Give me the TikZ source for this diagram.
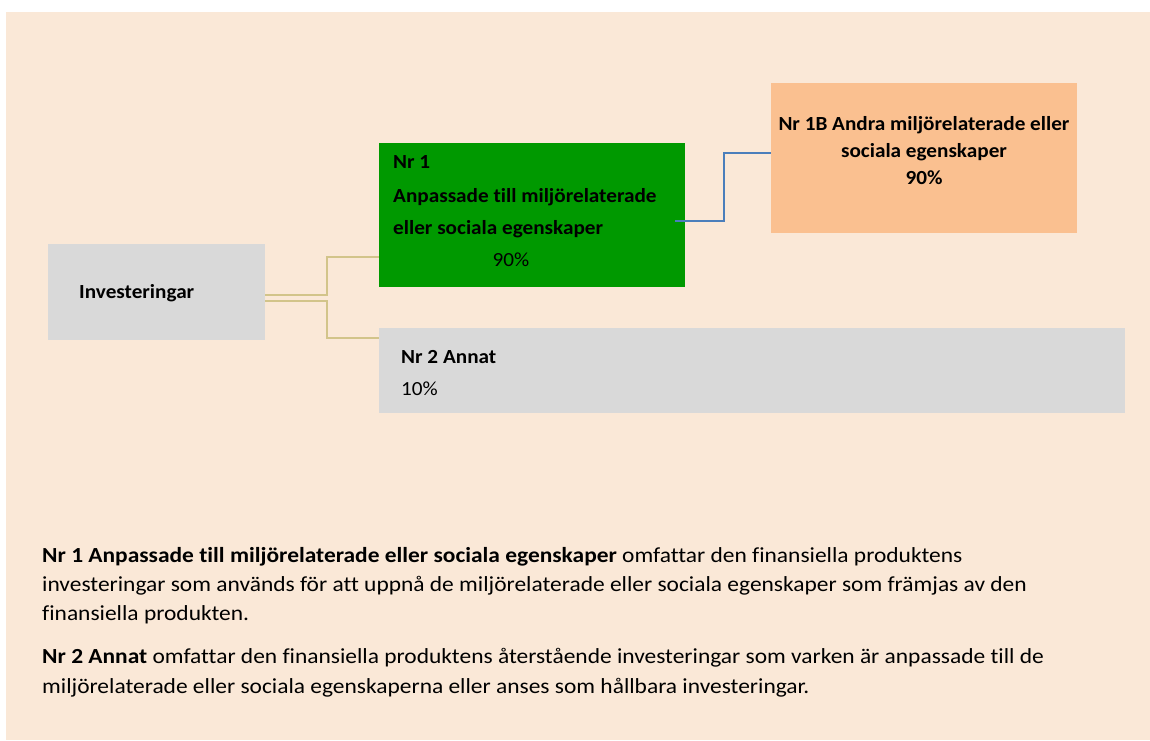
\documentclass[tikz,border=0pt]{standalone}
\usepackage{fontspec}
\setmainfont{Carlito}[Ligatures=NoCommon]
\newfontfamily\descfont{Carlito}[FakeStretch=1.09, Ligatures=NoCommon]
\newfontfamily\boxfont{Carlito}[FakeStretch=1.06, Ligatures=NoCommon]
\definecolor{bgpeach}{HTML}{FAE8D7}
\definecolor{boxgray}{HTML}{D9D9D9}
\definecolor{boxgreen}{HTML}{009900}
\definecolor{boxorange}{HTML}{FAC090}
\definecolor{linegold}{HTML}{D2C48A}
\definecolor{lineblue}{HTML}{4A7EBB}
\tikzset{
  panel/.style={fill=#1, draw=none, inner sep=0pt, outer sep=0pt, anchor=north west},
  boxtext/.style={font=\boxfont\fontsize{20}{24}\selectfont\bfseries, inner sep=0pt, anchor=base west},
  plaintext/.style={font=\boxfont\fontsize{20}{24}\selectfont, inner sep=0pt, anchor=base west},
  desc/.style={font=\descfont\fontsize{21.5}{26}\selectfont, inner sep=0pt, anchor=base west},
  goldline/.style={draw=linegold, line width=1.5pt},
  blueline/.style={draw=lineblue, line width=1.5pt},
}
\begin{document}
\begin{tikzpicture}[x=1pt,y=-1pt]
\useasboundingbox (0,0) rectangle (1150,740);
\fill[white] (0,0) rectangle (1150,740);
\fill[bgpeach] (6,12) rectangle (1150,740);

% boxes
\node[panel=boxgray, minimum width=217pt, minimum height=96pt] (inv) at (48,244) {};
\node[panel=boxgreen, minimum width=306pt, minimum height=144pt] (nr1) at (379,143) {};
\node[panel=boxorange, minimum width=306pt, minimum height=150pt] (nr1b) at (771,83) {};
\node[panel=boxgray, minimum width=746pt, minimum height=85pt] (nr2) at (379,328) {};

% connector points
\coordinate (ga) at (265,295);
\coordinate (gb) at (265,301);
\coordinate (bl) at (675,221);

% connectors
\draw[goldline] (ga) -- (327,295) -- (327,257) -- (nr1.west |- 0,257);
\draw[goldline] (gb) -- (327,301) -- (327,338) -- (nr2.west |- 0,338);
\draw[blueline] (bl) -- (724,221) -- (724,153) -- (nr1b.west |- 0,153);

% box texts
\node[boxtext] (invt) at (79,298) {Investeringar};
\node[boxtext] (nr1a) at (393,168) {Nr 1};
\node[boxtext] (nr1b1) at (393,202) {Anpassade till miljörelaterade};
\node[boxtext] (nr1b2) at (393,234) {eller sociala egenskaper};
\node[plaintext, anchor=base] (nr1c) at (511,266) {90\%};
\node[boxtext, anchor=base] (or1) at (924,130) {Nr 1B Andra miljörelaterade eller};
\node[boxtext, anchor=base] (or2) at (924,157) {sociala egenskaper};
\node[boxtext, anchor=base] (or3) at (924,184) {90\%};
\node[boxtext] (nr2a) at (401,363) {Nr 2 Annat};
\node[plaintext] (nr2b) at (401,395) {10\%};

% description
\node[desc] (d1) at (42,562) {\textbf{Nr 1 Anpassade till miljörelaterade eller sociala egenskaper} omfattar den finansiella produktens};
\node[desc] (d2) at (42,591) {investeringar som används för att uppnå de miljörelaterade eller sociala egenskaper som främjas av den};
\node[desc] (d3) at (42,620) {finansiella produkten.};
\node[desc] (d4) at (42,663) {\textbf{Nr 2 Annat} omfattar den finansiella produktens återstående investeringar som varken är anpassade till de};
\node[desc] (d5) at (42,693) {miljörelaterade eller sociala egenskaperna eller anses som hållbara investeringar.};
\end{tikzpicture}
\end{document}
